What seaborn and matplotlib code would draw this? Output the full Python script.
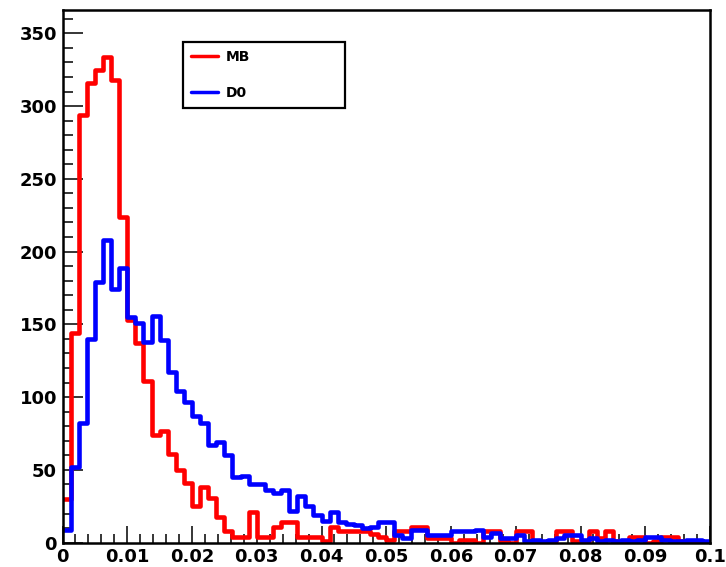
import numpy as np
import pandas as pd
import matplotlib
matplotlib.use("Agg")
import matplotlib.pyplot as plt
import seaborn as sns
from matplotlib.lines import Line2D
from matplotlib.ticker import FixedLocator, FixedFormatter, MultipleLocator

# ---------------- data ----------------
x_min, x_max, n_bins = 0.0, 0.1, 80

series_names = ["MB", "D0"]
series_colors = ["#ff0000", "#0000ff"]

mb_counts = [30, 144, 294, 316, 325, 334, 318, 224, 153, 137,
             111, 74, 77, 61, 50, 41, 25, 38, 31, 18,
             8, 4, 4, 21, 4, 4, 11, 14, 14, 4,
             4, 4, 1, 11, 8, 8, 8, 8, 6, 4,
             2, 8, 8, 11, 11, 3, 3, 3, 0, 2,
             2, 0, 8, 8, 1, 0, 8, 8, 1, 0,
             1, 8, 8, 1, 0, 8, 3, 8, 1, 0,
             4, 4, 0, 1, 4, 4, 1, 0, 0, 0]

d0_counts = [9, 52, 82, 140, 179, 208, 174, 189, 155, 151,
             138, 156, 139, 117, 104, 97, 87, 82, 67, 69,
             60, 45, 46, 40, 40, 36, 34, 36, 22, 32,
             25, 19, 15, 21, 14, 13, 12, 10, 11, 14,
             14, 5, 3, 9, 9, 5, 5, 5, 8, 8,
             8, 9, 4, 7, 3, 3, 5, 1, 2, 1,
             2, 3, 5, 5, 2, 3, 1, 2, 1, 2,
             1, 2, 4, 4, 2, 1, 1, 2, 2, 1]

x_tick_values = [0.0, 0.01, 0.02, 0.03, 0.04, 0.05, 0.06, 0.07, 0.08, 0.09, 0.1]
x_tick_labels = ["0", "0.01", "0.02", "0.03", "0.04", "0.05", "0.06", "0.07", "0.08", "0.09", "0.1"]
y_tick_values = [0, 50, 100, 150, 200, 250, 300, 350]
y_tick_labels = ["0", "50", "100", "150", "200", "250", "300", "350"]

# ---------------- plot ----------------
edges = np.linspace(x_min, x_max, n_bins + 1)
centers = 0.5 * (edges[:-1] + edges[1:])
bin_edges = [float(e) for e in edges]

sns.set_theme(style="white")
plt.rcParams["font.family"] = ["DejaVu Sans"]

fig = plt.figure(figsize=(7.26, 5.67), dpi=100)
fig.patch.set_facecolor("white")
ax = fig.add_axes([62.5 / 726, 24.3 / 567, (710 - 62.5) / 726, (542.7 - 10) / 567])
ax.set_facecolor("white")

for name, counts, color in zip(series_names, [mb_counts, d0_counts], series_colors):
    df = pd.DataFrame({"x": centers, "w": counts})
    sns.histplot(data=df, x="x", weights="w", bins=bin_edges, element="step",
                 fill=False, color=color, linewidth=3.3, ax=ax)

ax.set_xlim(x_min, x_max)
ax.set_ylim(0, 366)
ax.set_xlabel("")
ax.set_ylabel("")

ax.xaxis.set_major_locator(FixedLocator(x_tick_values))
ax.xaxis.set_major_formatter(FixedFormatter(x_tick_labels))
ax.xaxis.set_minor_locator(MultipleLocator(0.002))
ax.yaxis.set_major_locator(FixedLocator(y_tick_values))
ax.yaxis.set_major_formatter(FixedFormatter(y_tick_labels))
ax.yaxis.set_minor_locator(MultipleLocator(10))

ax.tick_params(axis="x", which="major", direction="in", length=12.5, width=1.1,
               color="black", labelcolor="black", labelsize=13, pad=3.5,
               bottom=True, top=False)
ax.tick_params(axis="x", which="minor", direction="in", length=6.5, width=1.1,
               color="black", bottom=True, top=False)
ax.tick_params(axis="y", which="major", direction="in", length=14.5, width=1.1,
               color="black", labelcolor="black", labelsize=13, pad=4,
               left=True, right=False)
ax.tick_params(axis="y", which="minor", direction="in", length=7.5, width=1.1,
               color="black", left=True, right=False)
for lab in ax.get_xticklabels() + ax.get_yticklabels():
    lab.set_fontweight("bold")

for side in ["left", "right", "top", "bottom"]:
    ax.spines[side].set_visible(True)
    ax.spines[side].set_color("black")
    ax.spines[side].set_linewidth(1.8)

handles = [Line2D([0], [0], color=c, lw=2.5) for c in series_colors]
leg = ax.legend(handles, series_names, loc="upper left",
                bbox_to_anchor=(0.186, 0.94, 0.25, 0.0), mode="expand",
                frameon=True, fancybox=False, shadow=False, framealpha=1,
                prop={"weight": "bold", "size": 10}, handlelength=1.9,
                handletextpad=0.6, labelspacing=1.55, borderpad=0.6,
                borderaxespad=0.0)
leg.get_frame().set_edgecolor("black")
leg.get_frame().set_linewidth(1.6)
for t in leg.get_texts():
    t.set_color("black")

fig.savefig("out.png", dpi=100, facecolor="white")
